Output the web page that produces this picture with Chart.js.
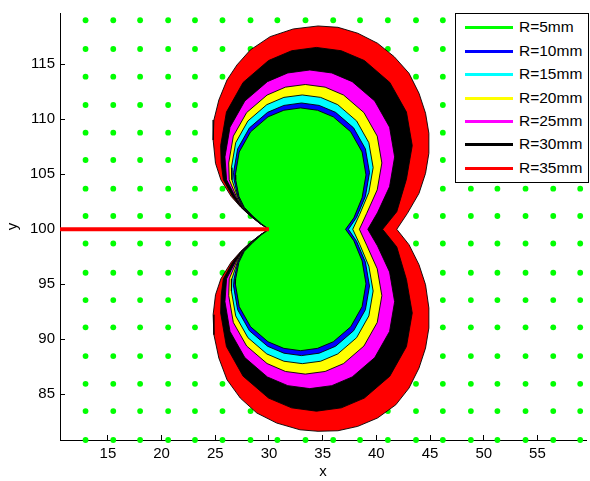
<!DOCTYPE html>
<html lang="fr">
<head>
<meta charset="utf-8">
<title>Zones R=5mm a R=35mm</title>
<script src="https://cdn.jsdelivr.net/npm/chart.js@4.4.1/dist/chart.umd.min.js"></script>
<style>
    html, body { margin: 0; padding: 0; background: #fff; }
    #cadre { position: relative; width: 590px; height: 481px; }
    #legende {
        position: absolute; left: 455px; top: 13px;
        width: 132px; height: 168px;
        border: 1px solid #000; background: #fff;
        font: 15.5px "Liberation Sans", Arial, sans-serif; color: #000;
    }
    #legende .item { position: absolute; left: 0; width: 132px; height: 20px; }
    #legende .trait { position: absolute; left: 9px; top: 9px; width: 48px; height: 3px; }
    #legende .txt { position: absolute; left: 63px; top: 1px; line-height: 18px; white-space: nowrap; }
</style>
</head>
<body>
<div id="cadre">
    <canvas id="graphe" width="590" height="481"></canvas>
    <div id="legende"></div>
</div>
<script>
// ========================
// Données
// ========================

const xTicks = [15, 20, 25, 30, 35, 40, 45, 50, 55];
const yTicks = [85, 90, 95, 100, 105, 110, 115];

// Grille de points verts (abscisses / ordonnées)
const grilleX = [12.92, 15.50, 18.00, 20.61, 23.11, 25.67, 28.28, 30.78, 33.40, 35.98,
                 38.48, 41.07, 43.69, 46.19, 48.80, 51.27, 53.89, 56.47, 58.98];
const grilleY = [119.00, 116.39, 113.87, 111.30, 108.78, 106.30, 103.69, 101.21,
                 98.71, 96.05, 93.57, 91.09, 88.48, 85.96, 83.48, 80.85];

// Fissure (trait rouge)
const fissureX = [10.54, 30];
const fissureY = [100, 100];

const rayons = ['R=5mm', 'R=10mm', 'R=15mm', 'R=20mm', 'R=25mm', 'R=30mm', 'R=35mm'];
const couleurs = ['#00ff00', '#0000ff', '#00ffff', '#ffff00', '#ff00ff', '#000000', '#ff0000'];

// Contours fermés [x, y]
const contourR5 = [
    [37.13,100],[37.9,101.04],[38.67,102.87],[39.03,104.95],[38.67,107.03],[37.61,108.86],[35.99,110.22],
    [34.52,110.82],[32.95,111.03],[31.38,110.82],[29.91,110.22],[28.29,108.86],[27.23,107.03],[26.87,104.95],
    [26.9,104.5],[27.2,103],[27.7,102],[28.5,101.2],[29.3,100.5],[29.8,100.15],[30,100],
    [29.8,99.85],[29.3,99.5],[28.5,98.8],[27.7,98],[27.2,97],[26.9,95.5],[26.87,95.05],[27.23,92.97],
    [28.29,91.14],[29.91,89.78],[31.38,89.18],[32.95,88.97],[34.52,89.18],[35.99,89.78],[37.61,91.14],
    [38.67,92.97],[39.03,95.05],[38.67,97.13],[37.9,98.96],[37.13,100]
];
const contourR10 = [
    [37.4,100],[38.15,101.08],[38.98,102.99],[39.36,105.15],[38.98,107.31],[37.88,109.22],[36.2,110.63],
    [34.67,111.26],[33.03,111.48],[31.39,111.26],[29.87,110.63],[28.18,109.22],[27.08,107.31],[26.7,105.15],
    [26.75,104.5],[27.1,103],[27.65,102],[28.46,101.2],[29.28,100.5],[29.8,100.15],[30,100],
    [29.8,99.85],[29.28,99.5],[28.46,98.8],[27.65,98],[27.1,97],[26.75,95.5],[26.7,94.85],[27.08,92.69],
    [28.18,90.78],[29.87,89.37],[31.39,88.74],[33.03,88.52],[34.67,88.74],[36.2,89.37],[37.88,90.78],
    [38.98,92.69],[39.36,94.85],[38.98,97.01],[38.15,98.92],[37.4,100]
];
const contourR15 = [
    [37.8,100],[38.45,101.37],[39.3,103.35],[39.7,105.61],[39.3,107.87],[38.16,109.85],[36.4,111.33],
    [34.81,111.99],[33.1,112.21],[31.39,111.99],[29.8,111.33],[28.04,109.85],[26.9,107.87],[26.5,105.61],
    [26.55,104.5],[27.05,103],[27.6,102],[28.43,101.2],[29.26,100.5],[29.79,100.15],[30,100],
    [29.79,99.85],[29.26,99.5],[28.43,98.8],[27.6,98],[27.05,97],[26.55,95.5],[26.5,94.39],[26.9,92.13],
    [28.04,90.15],[29.8,88.67],[31.39,88.01],[33.1,87.79],[34.81,88.01],[36.4,88.67],[38.16,90.15],
    [39.3,92.13],[39.7,94.39],[39.3,96.65],[38.45,98.63],[37.8,100]
];
const contourR20 = [
    [38.42,100],[39.1,101.45],[40.08,103.59],[40.51,106.03],[40.08,108.47],[38.84,110.61],[36.95,112.2],
    [35.23,112.92],[33.38,113.16],[31.53,112.92],[29.82,112.2],[27.92,110.61],[26.68,108.47],[26.25,106.03],
    [26.3,104.5],[26.95,103],[27.55,102],[28.4,101.2],[29.24,100.5],[29.78,100.15],[30,100],
    [29.78,99.85],[29.24,99.5],[28.4,98.8],[27.55,98],[26.95,97],[26.3,95.5],[26.25,93.97],[26.68,91.53],
    [27.92,89.39],[29.82,87.8],[31.53,87.08],[33.38,86.84],[35.23,87.08],[36.95,87.8],[38.84,89.39],
    [40.08,91.53],[40.51,93.97],[40.08,96.41],[39.1,98.55],[38.42,100]
];
const contourR25 = [
    [39.2,100],[40.1,101.5],[41.23,103.88],[41.7,106.58],[41.23,109.28],[39.85,111.66],[37.75,113.42],
    [35.85,114.21],[33.8,114.48],[31.75,114.21],[29.85,113.42],[27.75,111.66],[26.37,109.28],[25.9,106.58],
    [26.05,104.5],[26.85,103],[27.5,102],[28.35,101.2],[29.22,100.5],[29.77,100.15],[30,100],
    [29.77,99.85],[29.22,99.5],[28.35,98.8],[27.5,98],[26.85,97],[26.05,95.5],[25.9,93.42],[26.37,90.72],
    [27.75,88.34],[29.85,86.58],[31.75,85.79],[33.8,85.52],[35.85,85.79],[37.75,86.58],[39.85,88.34],
    [41.23,90.72],[41.7,93.42],[41.23,96.12],[40.1,98.5],[39.2,100]
];
const contourR30 = [
    [40.58,100],[41.9,101.6],[42.8,104.56],[43.34,107.61],[42.8,110.66],[41.25,113.35],[38.88,115.34],
    [36.73,116.23],[34.42,116.53],[32.11,116.23],[29.96,115.34],[27.59,113.35],[26.04,110.66],[25.5,107.61],
    [25.55,106],[25.75,104.5],[26.6,103],[27.42,102],[28.3,101.2],[29.2,100.5],[29.76,100.15],[30,100],
    [29.76,99.85],[29.2,99.5],[28.3,98.8],[27.42,98],[26.6,97],[25.75,95.5],[25.55,94],[25.5,92.39],
    [26.04,89.34],[27.59,86.65],[29.96,84.66],[32.11,83.77],[34.42,83.47],[36.73,83.77],[38.88,84.66],
    [41.25,86.65],[42.8,89.34],[43.34,92.39],[42.8,95.44],[41.9,98.4],[40.58,100]
];
const contourR35 = [
    [41.9,100],[42.89,101.45],[43.97,103.27],[44.58,105.09],[44.89,106.91],[44.89,108.73],[44.58,110.55],
    [43.97,112.36],[43.04,114.18],[41.66,115.69],[40.11,116.91],[38.27,117.82],[36.42,118.36],[34.57,118.48],
    [32.26,118.21],[30.11,117.51],[28.26,116.3],[27.02,114.94],[26.09,113.57],[25.33,111.75],[24.87,109.94],
    [24.8,108.12],[25.02,106],[25.52,104.5],[26.47,103],[27.38,102],[28.27,101.2],[29.19,100.5],[29.74,100.15],[30,100],
    [29.74,99.85],[29.19,99.5],[28.27,98.8],[27.38,98],[26.47,97],[25.52,95.5],[25.02,94.05],[24.8,92.24],
    [24.87,90.42],[25.33,88.3],[26.09,86.33],[27.33,84.66],[28.87,83.3],[30.72,82.39],[32.88,81.78],
    [34.57,81.64],[36.42,81.69],[38.27,82.09],[40.11,82.85],[41.81,84.05],[43.04,85.57],[43.97,87.39],
    [44.58,89.21],[44.89,91.03],[44.89,92.85],[44.58,94.96],[43.97,96.78],[43.04,98.6],[41.9,100]
];
const contours = [contourR5, contourR10, contourR15, contourR20, contourR25, contourR30, contourR35];

// ========================
// Construction du graphique
// ========================

Chart.defaults.font.family = '"Liberation Sans", Arial, sans-serif';
Chart.defaults.font.size = 15;
Chart.defaults.color = '#000';

function versPoints(liste) {
    return liste.map(p => ({ x: p[0], y: p[1] }));
}

function buildDatasets() {
    const sets = [];

    // Fissure au-dessus de tout (index 0 = dessiné en dernier)
    sets.push({
        type: 'line',
        label: 'fissure',
        data: fissureX.map((x, i) => ({ x: x, y: fissureY[i] })),
        borderColor: '#ff0000',
        borderWidth: 4,
        borderCapStyle: 'butt',
        pointRadius: 0,
        fill: false,
        clip: false
    });

    // Zones, de la plus petite (dessus) à la plus grande (dessous)
    contours.forEach((c, i) => {
        sets.push({
            type: 'line',
            label: rayons[i],
            data: versPoints(c),
            borderColor: '#000',
            borderWidth: 0.9,
            backgroundColor: couleurs[i],
            fill: 'shape',
            tension: 0,
            pointRadius: 0
        });
    });

    // Grille de points verts (en dessous)
    const grille = [];
    grilleY.forEach(y => grilleX.forEach(x => grille.push({ x: x, y: y })));
    sets.push({
        type: 'scatter',
        label: 'grille',
        data: grille,
        pointRadius: 2.9,
        pointBackgroundColor: '#00ff00',
        pointBorderColor: '#00ff00',
        pointBorderWidth: 0,
        showLine: false,
        clip: false
    });
    return sets;
}

function axe(ticksVal, min, max, titre, pos) {
    return {
        type: 'linear',
        position: pos,
        min: min,
        max: max,
        afterBuildTicks: s => { s.ticks = ticksVal.map(v => ({ value: v })); },
        afterFit: s => {
            if (pos === 'bottom') s.height = 41; else s.width = 60;
            // pas de marge supplémentaire autour de la zone de tracé
            s.paddingTop = 0;
            s.paddingBottom = 0;
            s.paddingLeft = 0;
            s.paddingRight = 0;
        },
        grid: { drawOnChartArea: false, drawTicks: true, tickLength: -5, color: '#000', lineWidth: 1 },
        border: { display: true, color: '#000', width: 1 },
        ticks: { padding: 10, color: '#000', maxRotation: 0, autoSkip: false, font: { size: 15 } },
        title: {
            display: true, text: titre, color: '#000', font: { size: 15 },
            padding: pos === 'bottom' ? { top: 0, bottom: 0 } : { top: 4, bottom: 0 }
        }
    };
}

const graphe = new Chart(document.getElementById('graphe'), {
    type: 'scatter',
    data: { datasets: buildDatasets() },
    options: {
        responsive: false,
        animation: false,
        events: [],
        layout: { padding: { top: 13, right: 0, bottom: 0, left: 0 } },
        plugins: {
            legend: { display: false },
            tooltip: { enabled: false },
            filler: { drawTime: 'beforeDatasetDraw' }
        },
        scales: {
            x: axe(xTicks, 10.54, 59.52, 'x', 'bottom'),
            y: axe(yTicks, 80.85, 119.66, 'y', 'left')
        }
    }
});

// Légende (texte réel)
function buildLegende() {
    const boite = document.getElementById('legende');
    rayons.forEach((r, i) => {
        const item = document.createElement('div');
        item.className = 'item';
        item.style.top = (3.3 + i * 23.4) + 'px';
        const trait = document.createElement('span');
        trait.className = 'trait';
        trait.style.background = couleurs[i];
        const txt = document.createElement('span');
        txt.className = 'txt';
        txt.textContent = r;
        item.appendChild(trait);
        item.appendChild(txt);
        boite.appendChild(item);
    });
}
buildLegende();
</script>
</body>
</html>
